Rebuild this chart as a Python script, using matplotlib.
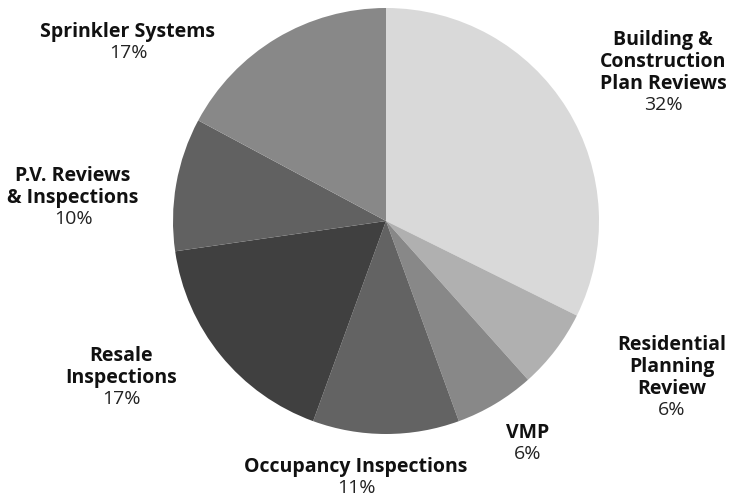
import matplotlib.pyplot as plt

plt.rcParams['font.family'] = ['Open Sans', 'DejaVu Sans']

# slice data, clockwise from 12 o'clock
names = ["Building &\nConstruction\nPlan Reviews", "Residential\nPlanning\nReview",
         "VMP", "Occupancy Inspections", "Resale\nInspections",
         "P.V. Reviews\n& Inspections", "Sprinkler Systems"]
shares = [32, 6, 6, 11, 17, 10, 17]
colors = ["#d9d9d9", "#b0b0b0", "#888888", "#636363", "#404040", "#616161", "#888888"]

# label anchor (pixel x, pixel y of gap between name and percent)
label_px = [(663, 95), (672, 400), (528, 444), (356, 478),
            (121, 389), (73, 209), (128, 43)]

W, H = 730, 502
CX, CY, R = 386, 222, 213

fig = plt.figure(figsize=(W / 100, H / 100), dpi=100)
ax = fig.add_axes([0, 0, 1, 1])
ax.pie(shares, colors=colors, startangle=90, counterclock=False,
       radius=1, center=(0, 0), wedgeprops={'linewidth': 0})
ax.set_xlim(-CX / R, (W - CX) / R)
ax.set_ylim(-(H - CY) / R, CY / R)
ax.set_aspect('equal')
ax.axis('off')

for name, val, (px, py) in zip(names, shares, label_px):
    x = (px - CX) / R
    y = (CY - py) / R
    ax.text(x, y + 0.003, name, ha='center', va='bottom', fontsize=14,
            fontweight='bold', color='#111111', linespacing=1.15,
            multialignment='center')
    ax.text(x, y - 0.003, f"{val}%", ha='center', va='top', fontsize=14,
            color='#222222')

fig.savefig("out.png", dpi=100)
